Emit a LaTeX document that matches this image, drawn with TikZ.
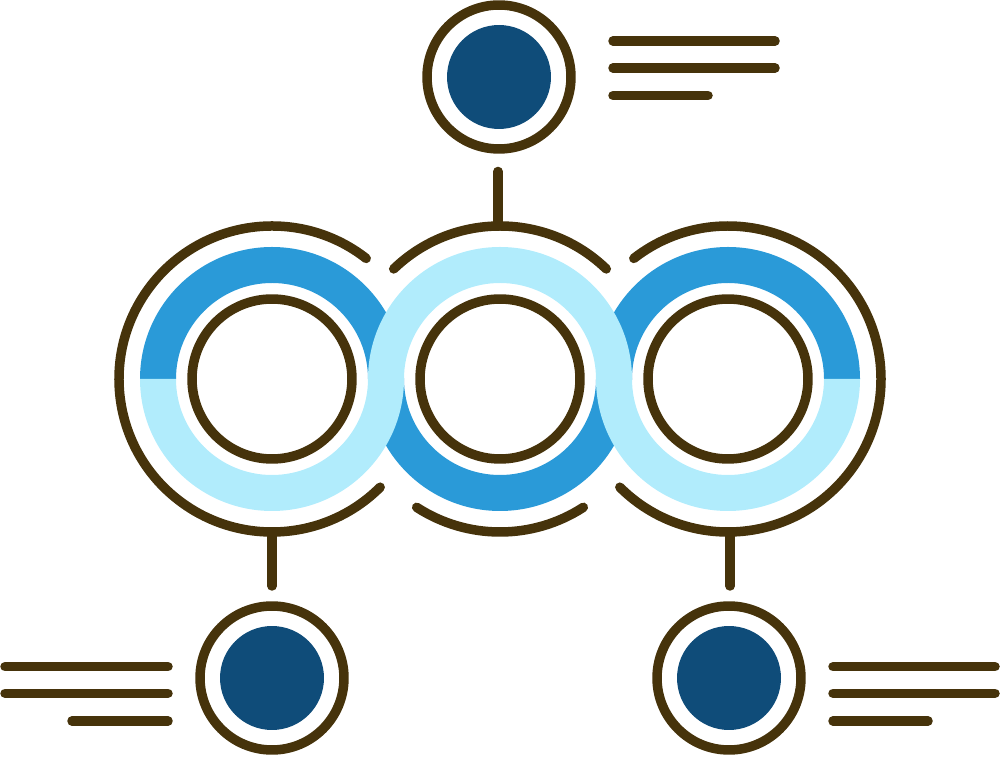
\documentclass[tikz,border=0pt]{standalone}
\definecolor{brn}{HTML}{46330B}
\definecolor{dblue}{HTML}{2A9AD8}
\definecolor{lblue}{HTML}{B1ECFC}
\definecolor{navy}{HTML}{0F4C79}
\begin{document}
\begin{tikzpicture}[x=0.02cm,y=0.02cm,
  brline/.style={draw=brn,line width=0.19cm,line cap=round},
  ringc/.style={circle,draw=brn,line width=0.19cm,inner sep=0pt,minimum size=2.88cm},
  disc/.style={circle,fill=navy,inner sep=0pt,minimum size=2.08cm},
  hubc/.style={circle,draw=brn,line width=0.19cm,inner sep=0pt,minimum size=3.2cm},
  darkhalf/.style={fill=dblue},
  lighthalf/.style={fill=lblue}]
\useasboundingbox (0,0) rectangle (1000,757);
% centres
\coordinate (L) at (272,378);
\coordinate (M) at (500,378);
\coordinate (R) at (728,378);
% blue rings: dark halves first
\fill[darkhalf] (L) ++(0:132) arc[start angle=0,end angle=180,radius=132] -- ++(36,0) arc[start angle=180,end angle=0,radius=96] -- cycle;
\fill[darkhalf] (R) ++(0:132) arc[start angle=0,end angle=180,radius=132] -- ++(36,0) arc[start angle=180,end angle=0,radius=96] -- cycle;
\fill[darkhalf] (M) ++(0:132) arc[start angle=0,end angle=-180,radius=132] -- ++(36,0) arc[start angle=-180,end angle=0,radius=96] -- cycle;
% light halves on top
\fill[lighthalf] (L) ++(0:132) arc[start angle=0,end angle=-180,radius=132] -- ++(36,0) arc[start angle=-180,end angle=0,radius=96] -- cycle;
\fill[lighthalf] (R) ++(0:132) arc[start angle=0,end angle=-180,radius=132] -- ++(36,0) arc[start angle=-180,end angle=0,radius=96] -- cycle;
\fill[lighthalf] (M) ++(0:132) arc[start angle=0,end angle=180,radius=132] -- ++(36,0) arc[start angle=180,end angle=0,radius=96] -- cycle;
% inner hub circles
\node[hubc] (Lc) at (L) {};
\node[hubc] (Mc) at (M) {};
\node[hubc] (Rc) at (R) {};
% outer arcs
\draw[brline] (L) ++(52:153) arc[start angle=52,end angle=315,radius=153];
\draw[brline] (M) ++(46:153) arc[start angle=46,end angle=134,radius=153];
\draw[brline] (M) ++(237:153) arc[start angle=237,end angle=303,radius=153];
\draw[brline] (R) ++(-135:153) arc[start angle=-135,end angle=128,radius=153];
% satellite circles
\node[ringc] (T) at (499,680) {};
\node[disc] (Td) at (T) {};
\node[ringc] (BL) at (272,79) {};
\node[disc] (BLd) at (BL) {};
\node[ringc] (BR) at (729,79) {};
\node[disc] (BRd) at (BR) {};
% connector ends
\coordinate (Tc) at (498,585.5);
\coordinate (Ma) at (498,531);
\coordinate (La) at (272,225);
\coordinate (BLc) at (272,171);
\coordinate (Ra) at (730,225);
\coordinate (BRc) at (730,171);
\draw[brline] (Tc) -- (Ma);
\draw[brline] (La) -- (BLc);
\draw[brline] (Ra) -- (BRc);
% text lines top
\coordinate (t1a) at (613,716); \coordinate (t1b) at (775,716);
\coordinate (t2a) at (613,689); \coordinate (t2b) at (775,689);
\coordinate (t3a) at (613,661.5); \coordinate (t3b) at (708,661.5);
\draw[brline] (t1a) -- (t1b);
\draw[brline] (t2a) -- (t2b);
\draw[brline] (t3a) -- (t3b);
% text lines bottom left
\coordinate (l1a) at (5,90.3); \coordinate (l1b) at (168,90.3);
\coordinate (l2a) at (5,63.7); \coordinate (l2b) at (168,63.7);
\coordinate (l3a) at (72,36); \coordinate (l3b) at (168,36);
\draw[brline] (l1a) -- (l1b);
\draw[brline] (l2a) -- (l2b);
\draw[brline] (l3a) -- (l3b);
% text lines bottom right
\coordinate (r1a) at (833,90.3); \coordinate (r1b) at (995,90.3);
\coordinate (r2a) at (833,63.7); \coordinate (r2b) at (995,63.7);
\coordinate (r3a) at (833,36); \coordinate (r3b) at (928,36);
\draw[brline] (r1a) -- (r1b);
\draw[brline] (r2a) -- (r2b);
\draw[brline] (r3a) -- (r3b);
\end{tikzpicture}
\end{document}
